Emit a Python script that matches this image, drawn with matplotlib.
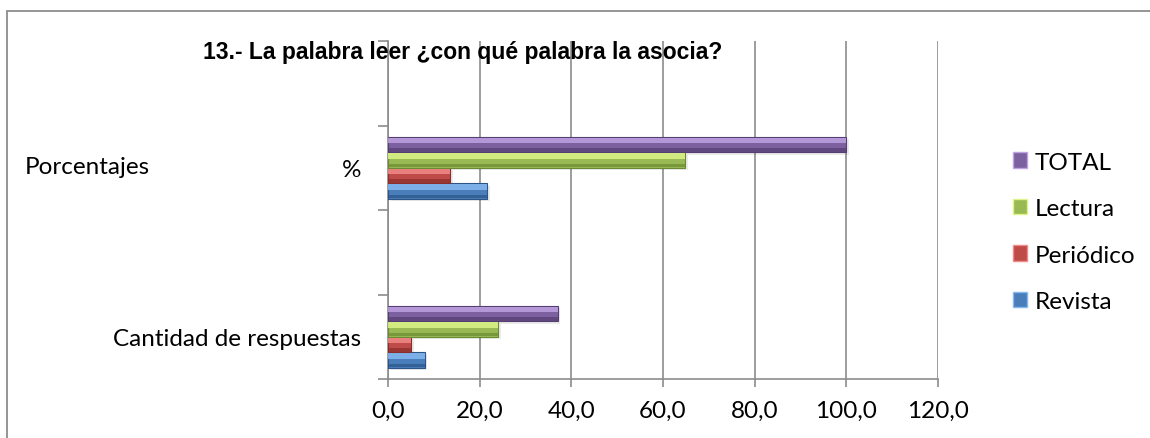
import matplotlib
matplotlib.use('Agg')
import matplotlib.pyplot as plt
from matplotlib.patches import Patch, Rectangle
import numpy as np

# data (empty categories carry no bars)
categories = ['Cantidad de respuestas', '', '%', '']
series = ['Revista', 'Periódico', 'Lectura', 'TOTAL']
revista = [8, np.nan, 21.6, np.nan]
periodico = [5, np.nan, 13.5, np.nan]
lectura = [24, np.nan, 64.9, np.nan]
total = [37, np.nan, 100, np.nan]
xticks = [0, 20, 40, 60, 80, 100, 120]

# colours (base, light top, dark bottom)
cols = {
    'Revista': ('#4A7EBB', '#86B8F0', '#2C5585'),
    'Periódico': ('#BE4B48', '#F28A88', '#8A2E2C'),
    'Lectura': ('#98B954', '#DDF58A', '#6B8A33'),
    'TOTAL': ('#7D60A0', '#BFA2E2', '#553F72'),
}

plt.rcParams['font.family'] = ['Lato', 'DejaVu Sans']
fs = 17.5

fig = plt.figure(figsize=(11.5, 4.39), dpi=100)
ax = fig.add_axes([388 / 1150, 1 - 380 / 439, 550 / 1150, 338 / 439])

# outer frame
fig.patches.append(Rectangle((7 / 1150, -0.1), 1.2, 1 - 12 / 439 + 0.1,
                             transform=fig.transFigure, fill=False,
                             edgecolor='#8c8c8c', lw=1.3))

y = np.arange(len(categories))
h = 0.183
offs = [-1.5 * h, -0.5 * h, 0.5 * h, 1.5 * h]
values = [revista, periodico, lectura, total]

for name, vals, off in zip(series, values, offs):
    base, light, dark = cols[name]
    yy = y + off
    # soft shadow
    ax.barh(yy - 0.03, vals, height=h, left=0.6, color='#000000', alpha=0.08,
            zorder=2)
    ax.barh(yy, vals, height=h, color=base, edgecolor=dark, lw=0.8, zorder=3)
    ax.barh(yy + h * 0.25, vals, height=h * 0.36, color=light, lw=0, zorder=4,
            alpha=0.85)
    ax.barh(yy - h * 0.36, vals, height=h * 0.22, color=dark, lw=0, zorder=4,
            alpha=0.7)

ax.set_xlim(0, 120)
ax.set_ylim(-0.5, 3.5)
ax.set_xticks(xticks)
ax.set_xticklabels([('%.1f' % v).replace('.', ',') for v in xticks],
                   fontsize=fs)
ax.xaxis.grid(True, color='#8c8c8c', lw=1.2)
ax.set_axisbelow(True)

ax.set_yticks(np.arange(-0.5, 3.6, 1.0))
ax.set_yticklabels([])
ax.set_yticks(y, minor=True)
ax.set_yticklabels(categories, minor=True, fontsize=fs)
ax.tick_params(axis='y', which='minor', length=0, pad=19)
ax.tick_params(axis='y', which='major', length=7, color='#8c8c8c', width=1.2)
ax.tick_params(axis='x', length=6, color='#8c8c8c', width=1.2, pad=9)

for s in ['top', 'right']:
    ax.spines[s].set_visible(False)
for s in ['left', 'bottom']:
    ax.spines[s].set_color('#8c8c8c')
    ax.spines[s].set_linewidth(1.2)

fig.text(25 / 1150, 1 - 168 / 439, 'Porcentajes', fontsize=fs,
         ha='left', va='center')

fig.text(463 / 1150, 1 - 52 / 439, '13.- La palabra leer ¿con qué palabra la asocia?',
         fontsize=16.5, fontweight='bold', ha='center', va='center',
         family=['Liberation Sans', 'DejaVu Sans'], zorder=10)

handles = [Patch(facecolor=cols[n][0], edgecolor=cols[n][1], lw=1.0)
           for n in series[::-1]]
fig.legend(handles, series[::-1], loc='upper left',
           bbox_to_anchor=(1003 / 1150, 1 - 143 / 439), frameon=False,
           fontsize=fs, handlelength=0.6, handleheight=0.6,
           handletextpad=0.3, labelspacing=1.05, borderaxespad=0)

plt.savefig('out.png', dpi=100)
